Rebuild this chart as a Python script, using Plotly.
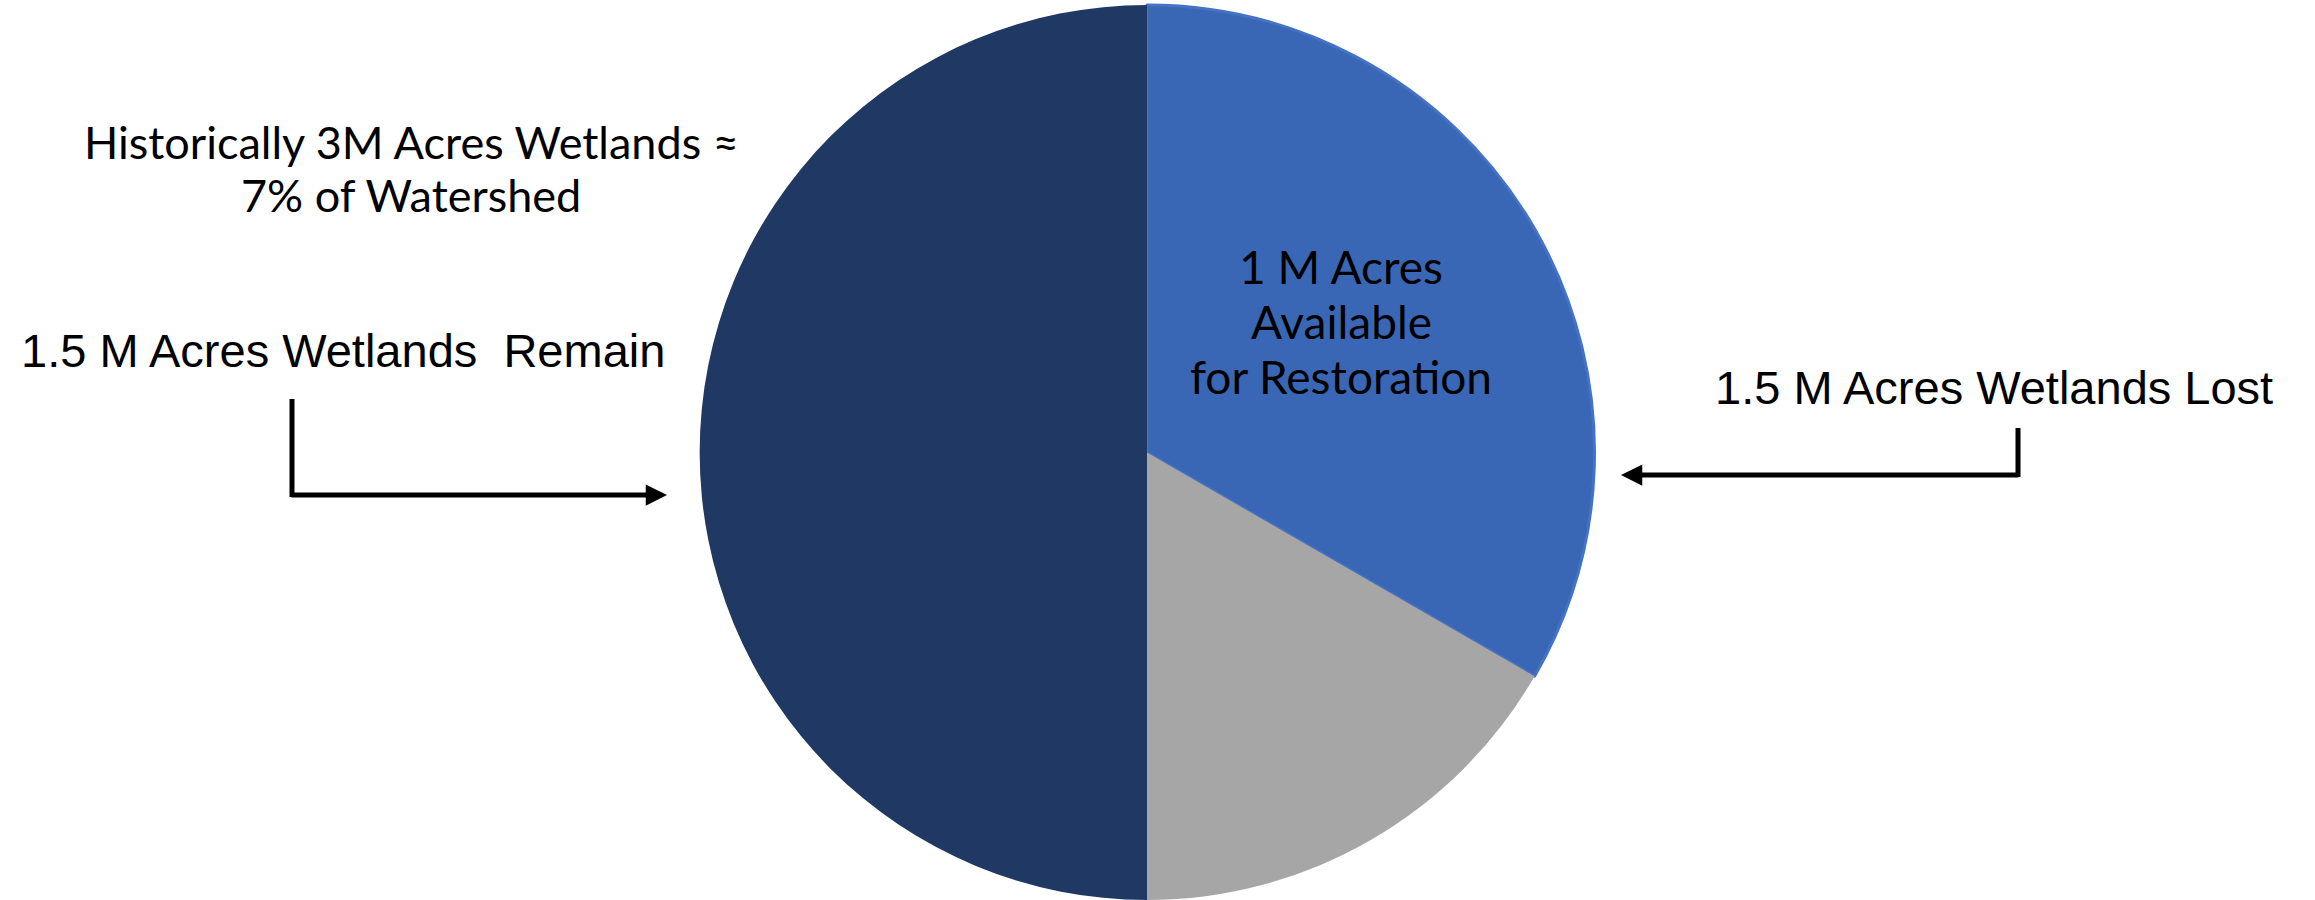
import plotly.graph_objects as go

# Wetland acreage split (millions of acres)
slice_labels = ["Available for Restoration", "Lost, Other", "Wetlands Remain"]
slice_values = [1.0, 0.5, 1.5]
slice_colors = ["#3A67B5", "#A6A6A6", "#203864"]
rim_colors = ["#4472C4", "#A6A6A6", "#203864"]
rim_widths = [3, 0, 0]

note_lines = ["Historically 3M Acres Wetlands \u2248", "7% of Watershed"]
inner_lines = ["1 M Acres", "Available", "for Restoration"]
remain_text = "1.5 M Acres Wetlands \u00a0Remain"
lost_text = "1.5 M Acres Wetlands Lost"

W, H = 2315, 900
CALIBRI_LIKE = "Lato, Carlito, Calibri, sans-serif"
ARIAL_LIKE = "Liberation Sans, Arial, sans-serif"

fig = go.Figure()

fig.add_trace(go.Pie(
    labels=slice_labels,
    values=slice_values,
    sort=False,
    direction="clockwise",
    rotation=0,
    marker=dict(colors=slice_colors, line=dict(color=rim_colors, width=rim_widths)),
    textinfo="none",
    hoverinfo="skip",
    showlegend=False,
    domain=dict(x=[699 / W, 1595 / W], y=[0.0, 1 - 5 / H]),
))

annotations = []


def label(text, x, y, size, family):
    annotations.append(dict(
        text=text, x=x, y=y, xref="x", yref="y", showarrow=False,
        xanchor="center", yanchor="middle",
        font=dict(size=size, family=family, color="#000000"),
    ))


label(note_lines[0], 411, 142, 45, CALIBRI_LIKE)
label(note_lines[1], 411, 195, 45, CALIBRI_LIKE)
for i, line in enumerate(inner_lines):
    label(line, 1341, 266 + 55 * i, 46, CALIBRI_LIKE)
label(remain_text, 343, 350, 47, ARIAL_LIKE)
label(lost_text, 1994, 387, 47, ARIAL_LIKE)

# Elbow connectors: a vertical stroke then an arrowed horizontal run
shapes = [
    dict(type="line", xref="x", yref="y", x0=292, y0=399, x1=292, y1=497,
         line=dict(color="#000000", width=5)),
    dict(type="line", xref="x", yref="y", x0=2018, y0=428, x1=2018, y1=477,
         line=dict(color="#000000", width=5)),
]
annotations.append(dict(
    x=667, y=495, ax=290, ay=495, xref="x", yref="y", axref="x", ayref="y",
    text="", showarrow=True, arrowhead=2, arrowsize=0.85, arrowwidth=5,
    arrowcolor="#000000", standoff=0,
))
annotations.append(dict(
    x=1621, y=475, ax=2020, ay=475, xref="x", yref="y", axref="x", ayref="y",
    text="", showarrow=True, arrowhead=2, arrowsize=0.85, arrowwidth=5,
    arrowcolor="#000000", standoff=0,
))

fig.update_layout(
    width=W, height=H,
    margin=dict(l=0, r=0, t=0, b=0),
    paper_bgcolor="#FFFFFF",
    plot_bgcolor="rgba(0,0,0,0)",
    xaxis=dict(range=[0, W], visible=False, domain=[0, 1], fixedrange=True),
    yaxis=dict(range=[H, 0], visible=False, domain=[0, 1], fixedrange=True),
    annotations=annotations,
    shapes=shapes,
    showlegend=False,
)

fig.write_html("out.html")
